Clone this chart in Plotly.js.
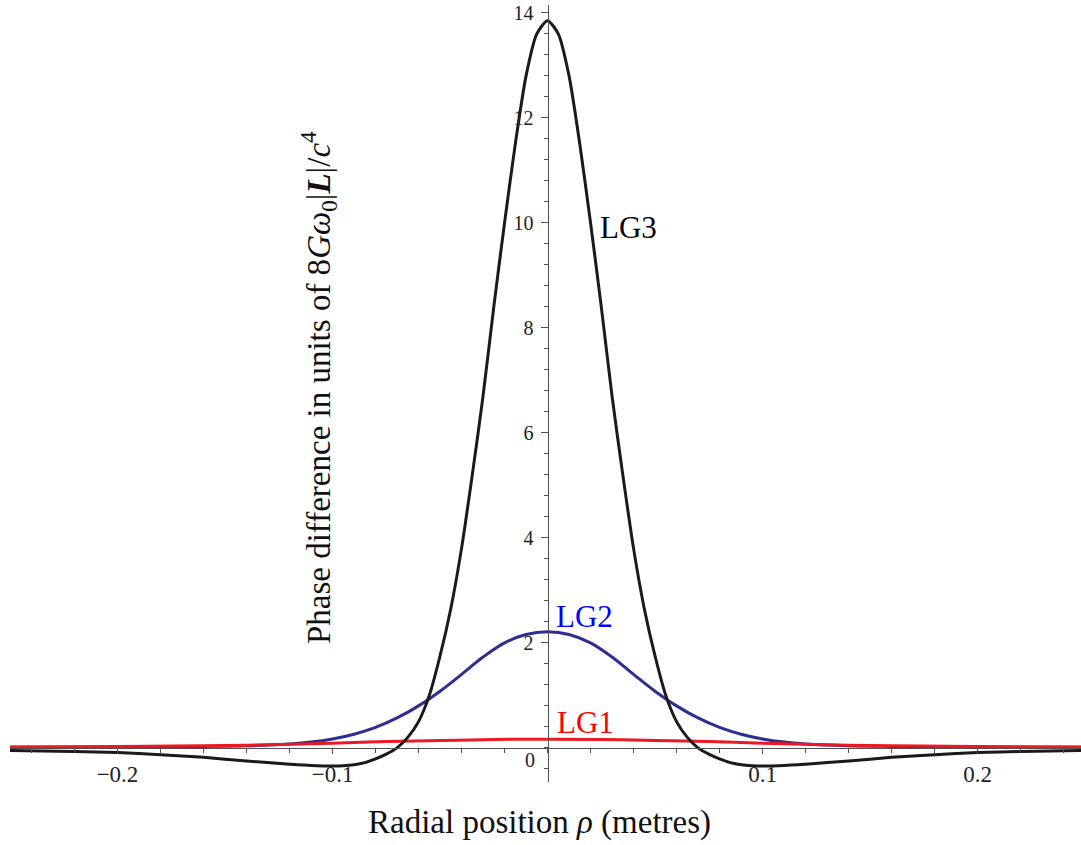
<!DOCTYPE html>
<html>
<head>
<meta charset="utf-8">
<script src="https://cdn.plot.ly/plotly-3.0.1.min.js"></script>
<style>html,body{margin:0;padding:0;background:#fff;}#chart{width:1081px;height:845px;}</style>
</head>
<body>
<div id="chart"></div>
<script>
// ---- data ----
const rhoLG3 = [-0.25,-0.22,-0.2,-0.18,-0.16,-0.14,-0.12,-0.11,-0.1,-0.095,-0.09,-0.085,-0.08,-0.075,-0.07,-0.065,-0.06,-0.055,-0.05,-0.045,-0.04,-0.035,-0.03,-0.025,-0.02,-0.015,-0.01,-0.005,0,
                0.005,0.01,0.015,0.02,0.025,0.03,0.035,0.04,0.045,0.05,0.055,0.06,0.065,0.07,0.075,0.08,0.085,0.09,0.095,0.1,0.11,0.12,0.14,0.16,0.18,0.2,0.22,0.25];
const phaseLG3 = [-0.05,-0.07,-0.09,-0.13,-0.18,-0.25,-0.31,-0.335,-0.345,-0.34,-0.32,-0.28,-0.21,-0.12,0.0,0.2,0.5,1.0,1.75,2.65,3.8,5.2,6.7,8.4,10.0,11.5,12.8,13.6,13.85,
                  13.6,12.8,11.5,10.0,8.4,6.7,5.2,3.8,2.65,1.75,1.0,0.5,0.2,0.0,-0.12,-0.21,-0.28,-0.32,-0.34,-0.345,-0.335,-0.31,-0.25,-0.18,-0.13,-0.09,-0.07,-0.05];
const rhoLG2 = [-0.25,-0.22,-0.2,-0.18,-0.16,-0.14,-0.12,-0.11,-0.1,-0.09,-0.08,-0.07,-0.06,-0.05,-0.04,-0.03,-0.02,-0.01,0,
                0.01,0.02,0.03,0.04,0.05,0.06,0.07,0.08,0.09,0.1,0.11,0.12,0.14,0.16,0.18,0.2,0.22,0.25];
const phaseLG2 = [0.01,0.012,0.015,0.02,0.028,0.042,0.075,0.11,0.17,0.26,0.39,0.57,0.8,1.08,1.4,1.73,2.0,2.16,2.21,
                  2.16,2.0,1.73,1.4,1.08,0.8,0.57,0.39,0.26,0.17,0.11,0.075,0.042,0.028,0.02,0.015,0.012,0.01];
const rhoLG1 = [-0.25,-0.2,-0.16,-0.13,-0.1,-0.075,-0.05,-0.025,0,0.025,0.05,0.075,0.1,0.13,0.16,0.2,0.25];
const phaseLG1 = [0.015,0.025,0.04,0.06,0.09,0.12,0.14,0.16,0.165,0.16,0.14,0.12,0.09,0.06,0.04,0.025,0.015];

const xTickVals = [-0.2,-0.1,0.1,0.2];
const xTickText = ['\u22120.2','\u22120.1','0.1','0.2'];
const yTickVals = [2,4,6,8,10,12,14];
const yTickText = ['2','4','6','8','10','12','14'];
const curveNames = ['LG1','LG2','LG3'];

const serif = 'Liberation Serif, Times New Roman, serif';
const axisGrey = '#505050';

const traces = [
  {x: rhoLG2, y: phaseLG2, name: curveNames[1], mode: 'lines', line: {color: '#2b2f8f', width: 3, shape: 'spline', smoothing: 1}},
  {x: rhoLG1, y: phaseLG1, name: curveNames[0], mode: 'lines', line: {color: '#ee1822', width: 3, shape: 'spline', smoothing: 1}},
  {x: rhoLG3, y: phaseLG3, name: curveNames[2], mode: 'lines', line: {color: '#1a1a1a', width: 3, shape: 'spline', smoothing: 0.7}}
];

const layout = {
  width: 1081, height: 845,
  margin: {l: 10, r: 0, t: 5, b: 63, pad: 0},
  paper_bgcolor: '#ffffff', plot_bgcolor: '#ffffff',
  showlegend: false,
  font: {family: serif, color: '#222'},
  xaxis: {
    range: [-0.25, 0.2481], anchor: 'free', position: 0.65/14.8,
    showgrid: false, zeroline: false,
    showline: true, linecolor: axisGrey, linewidth: 1.5,
    ticks: 'outside', ticklen: 5, tickwidth: 1.2, tickcolor: axisGrey,
    tickmode: 'array', tickvals: xTickVals, ticktext: xTickText,
    tickfont: {family: serif, size: 23, color: '#222'},
    minor: {tickmode: 'linear', tick0: 0, dtick: 0.02, ticks: 'outside', ticklen: 4, tickwidth: 1.2, tickcolor: axisGrey, showgrid: false}
  },
  yaxis: {
    range: [-0.65, 14.15], anchor: 'free', position: (547.5-10)/1071,
    showgrid: false, zeroline: false,
    showline: true, linecolor: axisGrey, linewidth: 1.5,
    ticks: 'outside', ticklen: 7, tickwidth: 1.2, tickcolor: axisGrey,
    tickmode: 'array', tickvals: yTickVals, ticktext: yTickText,
    tickfont: {family: serif, size: 20, color: '#222'},
    ticklabelstandoff: 3,
    minor: {tickmode: 'linear', tick0: 0, dtick: 0.4, ticks: 'outside', ticklen: 4, tickwidth: 1.2, tickcolor: axisGrey, showgrid: false}
  },
  annotations: [
    {xref: 'x', yref: 'y', x: -0.005, y: -0.23, xanchor: 'right', yanchor: 'middle', text: '0', showarrow: false,
     font: {family: serif, size: 20, color: '#222'}},
    {xref: 'x', yref: 'y', x: 0.0235, y: 9.92, xanchor: 'left', yanchor: 'middle', text: curveNames[2], showarrow: false,
     font: {family: serif, size: 31, color: '#000000'}},
    {xref: 'x', yref: 'y', x: 0.0028, y: 2.51, xanchor: 'left', yanchor: 'middle', text: curveNames[1], showarrow: false,
     font: {family: serif, size: 31, color: '#0000ff'}},
    {xref: 'x', yref: 'y', x: 0.0033, y: 0.49, xanchor: 'left', yanchor: 'middle', text: curveNames[0], showarrow: false,
     font: {family: serif, size: 31, color: '#ff0000'}},
    {xref: 'paper', yref: 'paper', x: 0.494, y: -0.0515, xanchor: 'center', yanchor: 'middle', showarrow: false,
     text: 'Radial position <i>ρ</i> (metres)', font: {family: serif, size: 33, color: '#111'}},
    {xref: 'paper', yref: 'paper', x: 0.2876, y: 0.507, xanchor: 'center', yanchor: 'middle', showarrow: false, textangle: -90,
     text: 'Phase difference in units of 8<i>Gω</i><sub>0</sub>|<b><i>L</i></b>|/<i>c</i><sup>4</sup>', font: {family: serif, size: 33, color: '#111'}}
  ]
};

Plotly.newPlot('chart', traces, layout, {displayModeBar: false, staticPlot: true});
</script>
</body>
</html>
